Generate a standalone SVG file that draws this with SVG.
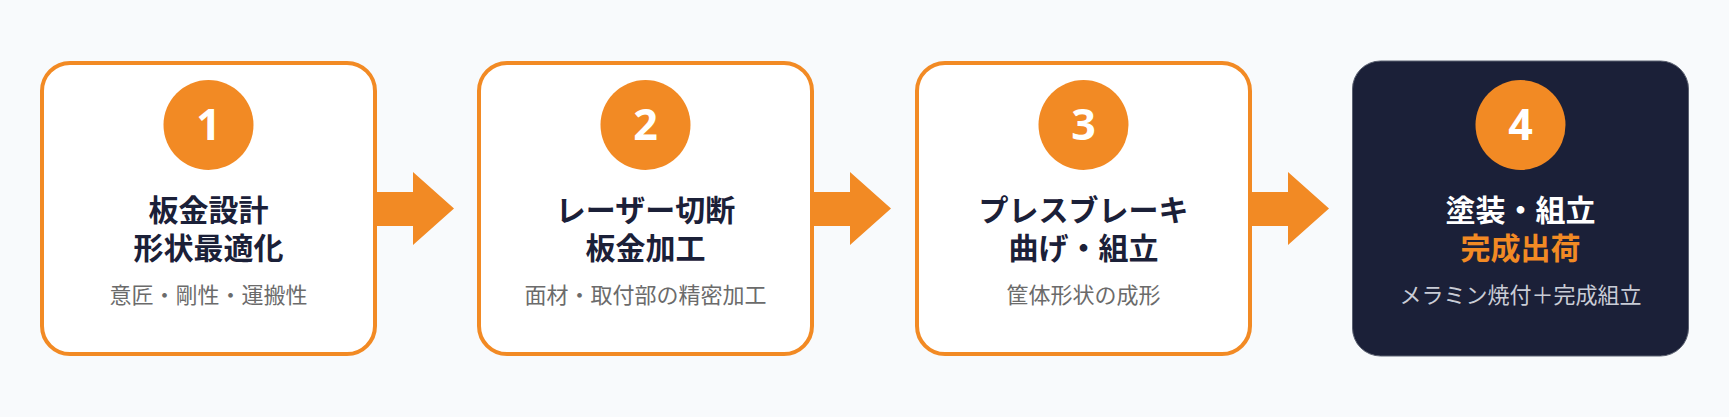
<svg xmlns="http://www.w3.org/2000/svg" width="1729" height="417" viewBox="0 0 1729 417">
<style>
.bg{fill:#f8fafc}
.box{fill:#ffffff;stroke:#f28a24;stroke-width:4}
.dark{fill:#1b2038;stroke:#5a6070;stroke-width:1}
.num{fill:#f28a24}
.n{font-family:"Noto Sans","Noto Sans CJK JP",sans-serif;font-weight:700;font-size:43px;fill:#ffffff;text-anchor:middle}
.t{font-family:"Noto Sans CJK JP",sans-serif;font-weight:700;font-size:30px;fill:#1b2038;text-anchor:middle}
.s{font-family:"Noto Sans CJK JP",sans-serif;font-size:22px;fill:#6b6b6b;text-anchor:middle}
.arr{fill:#f28a24}
</style>
<rect class="bg" x="0" y="0" width="1729" height="417"/>
<g id="connectors">
<polygon class="arr" points="377,192 413,192 413,172 454,208.5 413,245 413,226 377,226"/>
<polygon class="arr" points="814,192 850,192 850,172 891,208.5 850,245 850,226 814,226"/>
<polygon class="arr" points="1252,192 1288,192 1288,172 1329,208.5 1288,245 1288,226 1252,226"/>
</g>
<g id="step1">
<rect class="box" x="42" y="63" width="333" height="291" rx="28"/>
<circle class="num" cx="208.5" cy="125" r="45"/>
<text class="n" x="208.5" y="140">1</text>
<text class="t" x="208.5" y="221">板金設計</text>
<text class="t" x="208.5" y="259">形状最適化</text>
<text class="s" x="208.5" y="303">意匠・剛性・運搬性</text>
</g>
<g id="step2">
<rect class="box" x="479" y="63" width="333" height="291" rx="28"/>
<circle class="num" cx="645.5" cy="125" r="45"/>
<text class="n" x="645.5" y="140">2</text>
<text class="t" x="645.5" y="221">レーザー切断</text>
<text class="t" x="645.5" y="259">板金加工</text>
<text class="s" x="645.5" y="303">面材・取付部の精密加工</text>
</g>
<g id="step3">
<rect class="box" x="917" y="63" width="333" height="291" rx="28"/>
<circle class="num" cx="1083.5" cy="125" r="45"/>
<text class="n" x="1083.5" y="140">3</text>
<text class="t" x="1083.5" y="221">プレスブレーキ</text>
<text class="t" x="1083.5" y="259">曲げ・組立</text>
<text class="s" x="1083.5" y="303">筐体形状の成形</text>
</g>
<g id="step4">
<rect class="dark" x="1352.5" y="61" width="336" height="295" rx="28"/>
<circle class="num" cx="1520.5" cy="125" r="45"/>
<text class="n" x="1520.5" y="140">4</text>
<text class="t" x="1520.5" y="221" style="fill:#ffffff">塗装・組立</text>
<text class="t" x="1520.5" y="259" style="fill:#f28a24">完成出荷</text>
<text class="s" x="1520.5" y="303" style="fill:#c9ccd6">メラミン焼付＋完成組立</text>
</g>
</svg>
